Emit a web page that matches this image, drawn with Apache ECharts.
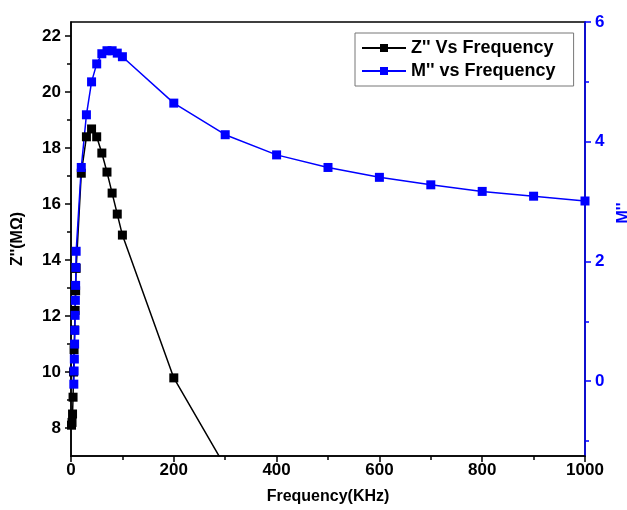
<!DOCTYPE html>
<html><head><meta charset="utf-8">
<script src="https://cdn.jsdelivr.net/npm/echarts@6/dist/echarts.min.js"></script>
<style>html,body{margin:0;padding:0;background:#fff}#c{width:627px;height:510px}</style>
</head><body><div id="c"></div>
<script>
// Z'' (left axis, MΩ) vs frequency (kHz)
const zFreq   = [1, 2, 3, 4, 5, 6, 7, 8, 9, 10, 20, 30, 40, 50, 60, 70, 80, 90, 100, 200, 300];
const zValues = [8.1, 8.2, 8.5, 9.1, 10.0, 10.8, 11.5, 12.2, 12.9, 13.7, 17.1, 18.4, 18.68, 18.4, 17.82, 17.14, 16.39, 15.64, 14.89, 9.79, 6.62];
// M'' (right axis) vs frequency (kHz)
const mFreq   = [5.5, 6, 6.5, 7, 7.5, 8, 8.5, 9, 9.5, 10, 20, 30, 40, 50, 60, 70, 80, 90, 100, 200, 300, 400, 500, 600, 700, 800, 900, 1000];
const mValues = [-0.05, 0.17, 0.37, 0.62, 0.85, 1.1, 1.35, 1.6, 1.9, 2.17, 3.57, 4.45, 5.0, 5.3, 5.47, 5.52, 5.52, 5.48, 5.42, 4.645, 4.117, 3.78, 3.57, 3.405, 3.28, 3.17, 3.09, 3.01];
// tick labels
const xTicks = [0, 200, 400, 600, 800, 1000];
const leftTicks = [8, 10, 12, 14, 16, 18, 20, 22];
const leftMinor = [9, 11, 13, 15, 17, 19, 21];
const rightTicks = [0, 2, 4, 6];
const rightMinor = [-1, 1, 3, 5];
const zName = "Z'' Vs Frequency";
const mName = "M'' vs Frequency";

const FONT = 'Liberation Sans, Arial, sans-serif';
const BLUE = '#0000ff';
const leftRange = [7, 22.5];
const rightRange = [-1.25, 6];

const chart = echarts.init(document.getElementById('c'), null, {renderer: 'canvas'});
const lbl = (c) => ({color: c, fontFamily: FONT, fontWeight: 'bold', fontSize: 17, formatter: (v) => String(v)});
chart.setOption({
  animation: false,
  backgroundColor: '#fff',
  grid: {left: 71, right: 42, top: 22, bottom: 54, show: true, borderColor: '#000', borderWidth: 1.5,
         backgroundColor: 'transparent', containLabel: false, outerBoundsMode: 'none'},
  legend: {
    left: 355, top: 33, orient: 'vertical', data: [zName, mName],
    borderColor: '#777', borderWidth: 1, padding: [6, 18, 6, 6], itemGap: 5,
    itemWidth: 44, itemHeight: 10,
    textStyle: {color: '#000', fontFamily: FONT, fontWeight: 'bold', fontSize: 18}
  },
  xAxis: {
    type: 'value', min: xTicks[0], max: xTicks[xTicks.length - 1], interval: 200,
    axisLine: {onZero: false, lineStyle: {color: '#000', width: 1.5}},
    axisTick: {length: 6, lineStyle: {color: '#000', width: 1.5}},
    minorTick: {show: true, splitNumber: 2, length: 4, lineStyle: {color: '#000', width: 1.5}},
    splitLine: {show: false},
    axisLabel: Object.assign(lbl('#000'), {margin: 6}),
    name: 'Frequency(KHz)', nameLocation: 'middle', nameGap: 33,
    nameTextStyle: {color: '#000', fontFamily: FONT, fontWeight: 'bold', fontSize: 16}
  },
  yAxis: [
    {
      type: 'value', position: 'left', min: leftRange[0], max: leftRange[1],
      axisLine: {show: true, onZero: false, lineStyle: {color: '#000', width: 1.5}},
      axisTick: {show: true, length: 6, customValues: leftTicks, lineStyle: {color: '#000', width: 1.5}},
      axisLabel: Object.assign(lbl('#000'), {customValues: leftTicks, margin: 10}),
      splitLine: {show: false},
      name: "Z''(MΩ)", nameLocation: 'middle', nameGap: 45, nameRotate: 90,
      nameTextStyle: {color: '#000', fontFamily: FONT, fontWeight: 'bold', fontSize: 16}
    },
    {
      type: 'value', position: 'right', min: rightRange[0], max: rightRange[1],
      axisLine: {show: true, onZero: false, lineStyle: {color: BLUE, width: 1.5}},
      axisTick: {show: true, length: 6, customValues: rightTicks, lineStyle: {color: BLUE, width: 1.5}},
      axisLabel: Object.assign(lbl(BLUE), {customValues: rightTicks, margin: 10}),
      splitLine: {show: false},
      name: "M''", nameLocation: 'middle', nameGap: 29, nameRotate: 90,
      nameTextStyle: {color: BLUE, fontFamily: FONT, fontWeight: 'bold', fontSize: 16, padding: [0, 0, 0, 52]}
    },
    {
      type: 'value', position: 'left', min: leftRange[0], max: leftRange[1],
      axisLine: {show: false, onZero: false}, axisLabel: {show: false}, splitLine: {show: false},
      axisTick: {show: true, length: 4, customValues: leftMinor, lineStyle: {color: '#000', width: 1.5}}
    },
    {
      type: 'value', position: 'right', min: rightRange[0], max: rightRange[1],
      axisLine: {show: false, onZero: false}, axisLabel: {show: false}, splitLine: {show: false},
      axisTick: {show: true, length: 4, customValues: rightMinor, lineStyle: {color: BLUE, width: 1.5}}
    }
  ],
  series: [
    {
      name: zName, type: 'line', yAxisIndex: 0, clip: true,
      data: zFreq.map((f, i) => [f, zValues[i]]),
      symbol: 'rect', symbolSize: 9,
      lineStyle: {color: '#000', width: 1.5}, itemStyle: {color: '#000'}
    },
    {
      name: mName, type: 'line', yAxisIndex: 1, clip: true,
      data: mFreq.map((f, i) => [f, mValues[i]]),
      symbol: 'rect', symbolSize: 9,
      lineStyle: {color: BLUE, width: 1.5}, itemStyle: {color: BLUE}
    }
  ]
});
</script></body></html>
